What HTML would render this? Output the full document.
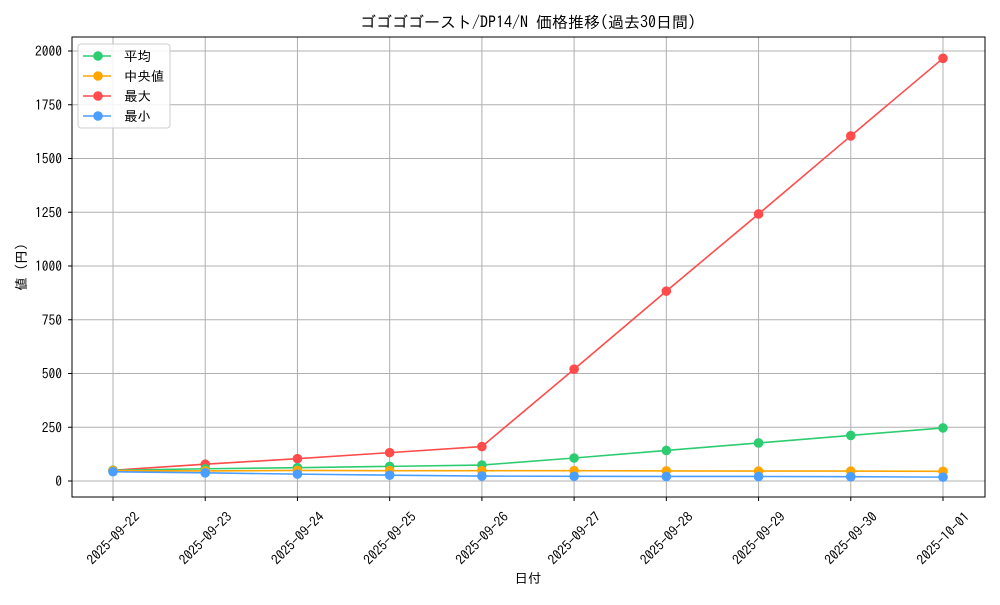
<!DOCTYPE html>
<html><head><meta charset="utf-8"><style>
body{margin:0;background:#fff}
svg text{font-family:"IPAGothic","Noto Sans CJK JP",monospace;fill:#000}
</style></head><body>
<svg id="c" width="1000" height="600" xmlns="http://www.w3.org/2000/svg"></svg>
<script>
const categories=["2025-09-22","2025-09-23","2025-09-24","2025-09-25","2025-09-26","2025-09-27","2025-09-28","2025-09-29","2025-09-30","2025-10-01"];
const avgValues=[50,57,62,68,74,107,142,177,212,247];
const medianValues=[48,47,49,48,48,48,47,46,46,45];
const maxValues=[50,78,104,132,160,520,883,1242,1605,1966];
const minValues=[43,38,32,27,23,22,21,21,20,18];
const yTicks=[0,250,500,750,1000,1250,1500,1750,2000];
const seriesNames=["平均","中央値","最大","最小"];
const colors=["#2ecc71","#ffa500","#ff4b4b","#4a9eff"];
const L=72,R=985,T=37,B=497;
const x=i=>113+i*(943-113)/(categories.length-1);
const y=v=>481-v*(481-51)/2000;
const svg=document.getElementById('c');
const NS="http://www.w3.org/2000/svg";
function mk(t,a,p){const e=document.createElementNS(NS,t);for(const k in a)e.setAttribute(k,a[k]);(p||svg).appendChild(e);return e;}
let e;
yTicks.forEach(v=>{e=mk('line',{x1:L,x2:R,y1:y(v),y2:y(v),stroke:'#b0b0b0','stroke-width':1});

e=mk('line',{x1:L-4,x2:L,y1:y(v),y2:y(v),stroke:'#000'});

e=mk('text',{x:L-10,y:y(v)+5,'text-anchor':'end','font-size':13.5});e.textContent=v;
});
categories.forEach((c,i)=>{e=mk('line',{x1:x(i),x2:x(i),y1:T,y2:B,stroke:'#b0b0b0'});

e=mk('line',{x1:x(i),x2:x(i),y1:B,y2:B+4,stroke:'#000'});

const cx=x(i),cy=B+41;
e=mk('text',{x:cx,y:cy+5,'text-anchor':'middle','font-size':13.5,transform:`rotate(-45 ${cx} ${cy})`});e.textContent=c;
});
const all=[avgValues,medianValues,maxValues,minValues];
[2,0,1,3].forEach(s=>{const g=mk('g',{});
e=mk('polyline',{points:all[s].map((v,i)=>x(i)+','+y(v)).join(' '),fill:'none',stroke:colors[s],'stroke-width':1.6},g);

all[s].forEach((v,i)=>{e=mk('circle',{cx:x(i),cy:y(v),r:4.8,fill:colors[s]},g);
});});
e=mk('rect',{x:L,y:T,width:R-L,height:B-T,fill:'none',stroke:'#000','stroke-width':1});

const lg=mk('g',{});
e=mk('rect',{x:78,y:44,width:92,height:84,rx:3,fill:'#fff','fill-opacity':0.85,stroke:'#ccc'},lg);

seriesNames.forEach((n,i)=>{const yy=56+i*20;
e=mk('line',{x1:83,x2:111,y1:yy,y2:yy,stroke:colors[i],'stroke-width':1.6},lg);

e=mk('circle',{cx:98,cy:yy,r:4.8,fill:colors[i]},lg);

e=mk('text',{x:124,y:yy+5,'font-size':13.5},lg);e.textContent=n;
});
e=mk('text',{x:528,y:28,'text-anchor':'middle','font-size':16});e.textContent="ゴゴゴゴースト/DP14/N 価格推移(過去30日間)";

e=mk('text',{x:528,y:583,'text-anchor':'middle','font-size':13.5});e.textContent="日付";

e=mk('text',{x:26,y:267,'text-anchor':'middle','font-size':13.5,transform:'rotate(-90 26 267)'});e.textContent="値 (円)";

</script>
</body></html>
